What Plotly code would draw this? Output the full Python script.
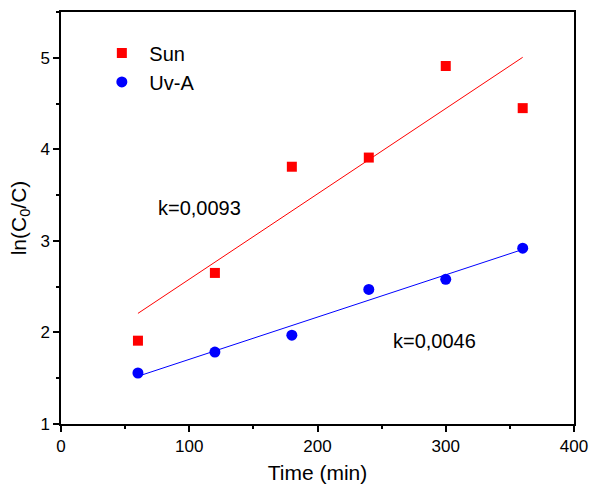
import numpy as np
import plotly.graph_objects as go

time_min = [60, 120, 180, 240, 300, 360]
sun = [1.91, 2.65, 3.81, 3.91, 4.91, 4.45]
uva = [1.557, 1.786, 1.97, 2.47, 2.58, 2.92]
k_labels = ["k=0,0093", "k=0,0046"]

FONT = "Liberation Sans, Arial, sans-serif"

def fit(x, y):
    s, b = np.polyfit(x, y, 1)
    xs = [min(x), max(x)]
    return xs, [s * v + b for v in xs]

fig = go.Figure()
fx, fy = fit(time_min, sun)
fig.add_trace(go.Scatter(x=fx, y=fy, mode="lines", line=dict(color="#ff0000", width=1), showlegend=False, hoverinfo="skip"))
fx2, fy2 = fit(time_min, uva)
fig.add_trace(go.Scatter(x=fx2, y=fy2, mode="lines", line=dict(color="#0000ff", width=1), showlegend=False, hoverinfo="skip"))
fig.add_trace(go.Scatter(x=time_min, y=sun, mode="markers", name="Sun",
                         marker=dict(symbol="square", size=10, color="#ff0000")))
fig.add_trace(go.Scatter(x=time_min, y=uva, mode="markers", name="Uv-A",
                         marker=dict(symbol="circle", size=11, color="#0000ff")))

fig.add_annotation(x=74, y=3.36, text=k_labels[0], showarrow=False, xanchor="left", yanchor="middle",
                   font=dict(family=FONT, size=20, color="black"))
fig.add_annotation(x=257, y=1.91, text=k_labels[1], showarrow=False, xanchor="left", yanchor="middle",
                   font=dict(family=FONT, size=20, color="black"))

axis_common = dict(showline=True, linecolor="black", linewidth=1.5, mirror=True,
                   ticks="outside", ticklen=6, tickwidth=1.5, tickcolor="black",
                   showgrid=False, zeroline=False, automargin=False,
                   tickfont=dict(family=FONT, size=17, color="black"))

fig.update_xaxes(range=[0, 400], dtick=100, tick0=0,
                 minor=dict(ticks="outside", ticklen=3, tickwidth=1.5, tickcolor="black", dtick=50),
                 title=dict(text="Time (min)", font=dict(family=FONT, size=21, color="black"), standoff=10),
                 **axis_common)
fig.update_yaxes(range=[1, 5.5], dtick=1, tick0=1,
                 minor=dict(ticks="outside", ticklen=3, tickwidth=1.5, tickcolor="black", dtick=0.5),
                 title=dict(text="ln(C<sub>0</sub>/C)", font=dict(family=FONT, size=21, color="black"), standoff=8),
                 **axis_common)

fig.update_layout(width=590, height=486, margin=dict(l=61, r=16, t=12, b=62),
                  plot_bgcolor="white", paper_bgcolor="white",
                  font=dict(family=FONT, color="black"),
                  legend=dict(x=0.065, y=0.948, xanchor="left", yanchor="top",
                              bgcolor="rgba(0,0,0,0)", itemwidth=45, tracegroupgap=0,
                              font=dict(family=FONT, size=20, color="black")))

fig.write_html("out.html", config={"displayModeBar": False},
               post_script="document.body.style.margin='0';document.body.style.overflow='hidden';")
